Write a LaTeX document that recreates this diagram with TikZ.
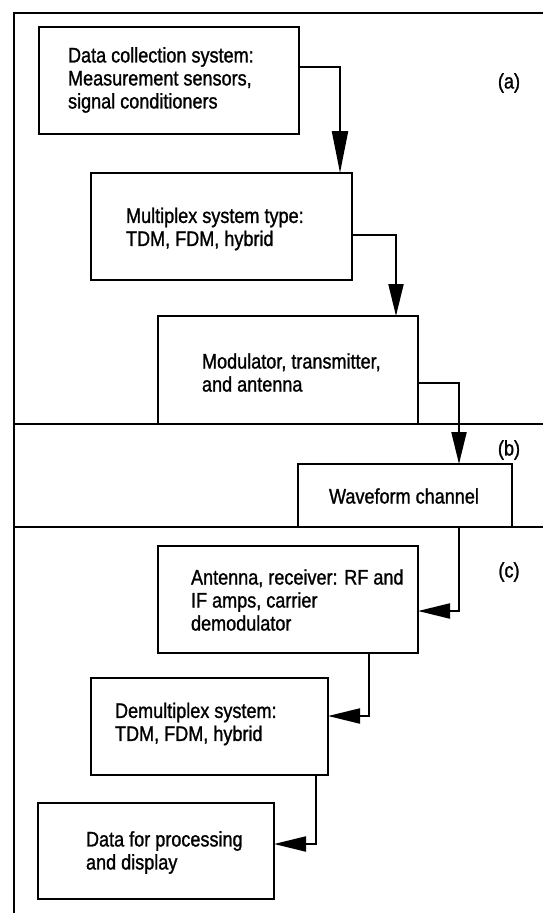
\documentclass[tikz,border=0pt]{standalone}
\usepackage{fontspec}
\setmainfont{Liberation Sans}[FakeStretch=0.86,FakeBold=1.2]
\usetikzlibrary{arrows.meta}
\begin{document}
\begin{tikzpicture}[x=1pt,y=-1pt,
  line width=2.1pt,
  blockbox/.style={draw, rectangle, inner sep=0pt, outer sep=0pt},
  txt/.style={anchor=west, align=left, inner sep=0pt, font=\fontsize{21pt}{23pt}\selectfont},
  tag/.style={inner sep=0pt, font=\fontsize{21pt}{23pt}\selectfont},
  flow/.style={-{Triangle[length=32pt,width=15pt]}},
  longflow/.style={-{Triangle[length=42pt,width=16pt]}}]
\useasboundingbox (0,0) rectangle (543,913);

% frame and section dividers
\coordinate (tl) at (14,13);
\coordinate (tr) at (543,13);
\coordinate (bl) at (14,913);
\coordinate (d1l) at (14,424);
\coordinate (d1r) at (543,424);
\coordinate (d2l) at (14,527);
\coordinate (d2r) at (543,527);
\draw (tr) -- (tl) -- (bl);
\draw (d1l) -- (d1r);
\draw (d2l) -- (d2r);

% blocks
\node[blockbox, minimum width=260pt, minimum height=107pt] (b1) at (169,80.5) {};
\node[blockbox, minimum width=261pt, minimum height=107pt] (b2) at (221.5,226.5) {};
\node[blockbox, minimum width=260pt, minimum height=108pt] (b3) at (288,370) {};
\node[blockbox, minimum width=214pt, minimum height=63pt] (wf) at (405,495.5) {};
\node[blockbox, minimum width=260pt, minimum height=107pt] (b4) at (288,599.5) {};
\node[blockbox, minimum width=237pt, minimum height=97pt] (b5) at (209.5,726.5) {};
\node[blockbox, minimum width=236pt, minimum height=96pt] (b6) at (156,851) {};

% block texts
\node[txt] (t1) at (67,80) {Data collection system:\\Measurement sensors,\\signal conditioners};
\node[txt] (t2) at (125,229) {Multiplex system type:\\TDM, FDM, hybrid};
\node[txt] (t3) at (201,372.5) {Modulator, transmitter,\\and antenna};
\node[tag] (t4) at (404,496) {Waveform channel};
\node[txt] (t5) at (190,600) {Antenna, receiver: RF and\\IF amps, carrier\\demodulator};
\node[txt] (t6) at (114,724) {Demultiplex system:\\TDM, FDM, hybrid};
\node[txt] (t7) at (85,852.5) {Data for processing\\and display};

% section tags
\node[tag] (ta) at (509,83) {(a)};
\node[tag] (tb) at (509,450) {(b)};
\node[tag] (tc) at (509,572) {(c)};

% signal path
\draw[longflow] ([yshift=13.5pt]b1.east) -| ([xshift=118.5pt]b2.north);
\draw[flow] ([yshift=-8.5pt]b2.east) -| ([xshift=108pt]b3.north);
\draw[flow] ([yshift=-13pt]b3.east) -| ([xshift=54pt]wf.north);
\draw[flow] ([xshift=54pt]wf.south) |- ([yshift=-11.5pt]b4.east);
\draw[flow] ([xshift=81pt]b4.south) |- ([yshift=10.5pt]b5.east);
\draw[flow] ([xshift=106.5pt]b5.south) |- ([yshift=7pt]b6.east);
\end{tikzpicture}
\end{document}
